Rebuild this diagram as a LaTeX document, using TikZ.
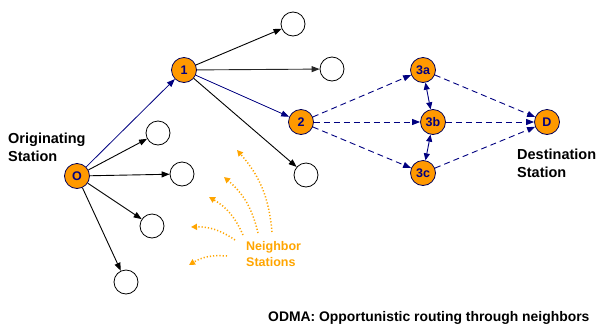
\documentclass[tikz,border=0pt]{standalone}
\usepackage{fontspec}
\setmainfont{Liberation Sans}
\usetikzlibrary{arrows.meta}
\definecolor{orng}{HTML}{FF9900}
\definecolor{nav}{HTML}{000080}
\definecolor{nbr}{HTML}{FFA500}
\begin{document}
\begin{tikzpicture}[x=1pt,y=1pt,
  onode/.style={circle,fill=orng,draw=nav!70!black,line width=0.8pt,minimum size=25pt,inner sep=0pt,font=\bfseries\fontsize{12.5}{14}\selectfont,text=nav},
  enode/.style={circle,draw=black,line width=0.8pt,minimum size=24pt,inner sep=0pt},
  blk/.style={line width=0.9pt,-{Triangle[length=8pt,width=6pt]}},
  nv/.style={nav,line width=0.8pt,-{Triangle[length=8pt,width=6pt]}},
  nvd/.style={nav,line width=0.9pt,dash pattern=on 6pt off 4pt,-{Triangle[length=8pt,width=6pt]}},
  nvb/.style={nav,line width=0.9pt,{Triangle[length=7pt,width=6pt]}-{Triangle[length=7pt,width=6pt]}},
  orarr/.style={nbr,line width=1.5pt,dash pattern=on 1.2pt off 2pt,-{Triangle[length=6pt,width=6pt]},bend right=18},
  lbl/.style={font=\bfseries\fontsize{14.5}{18}\selectfont,align=left,inner sep=0pt}
]
\useasboundingbox (0,0) rectangle (601,-335);
% orange nodes
\node[onode] (O) at (77,-176) {O};
\node[onode] (n1) at (184,-70) {1};
\node[onode] (n2) at (301,-122) {2};
\node[onode] (n3a) at (423,-70) {3a};
\node[onode] (n3b) at (433,-122) {3b};
\node[onode] (n3c) at (423,-173) {3c};
\node[onode] (D) at (547,-122) {D};
% empty nodes
\node[enode] (e1) at (293,-24) {};
\node[enode] (e2) at (332,-69) {};
\node[enode] (e3) at (306,-175) {};
\node[enode] (e4) at (158,-133) {};
\node[enode] (e5) at (182,-174) {};
\node[enode] (e6) at (152,-226) {};
\node[enode] (e7) at (126,-282) {};
% edges
\draw[nv] (O) -- (n1);
\draw[nv] (n1) -- (n2);
\draw[blk] (O) -- (e4);
\draw[blk] (O) -- (e5);
\draw[blk] (O) -- (e6);
\draw[blk] (O) -- (e7);
\draw[blk] (n1) -- (e1);
\draw[blk,black!85] (n1) -- (e2);
\draw[blk] (n1) -- (e3);
\draw[nvd] (n2) -- (n3a);
\draw[nvd] (n2) -- (n3b);
\draw[nvd] (n2) -- (n3c);
\draw[nvd] (n3a) -- (D);
\draw[nvd] (n3b) -- (D);
\draw[nvd] (n3c) -- (D);
\draw[nvb] (n3a) -- (n3b);
\draw[nvb] (n3b) -- (n3c);
% neighbor arrows
\coordinate (s1) at (272,-232); \coordinate (t1) at (237,-150);
\coordinate (s2) at (258,-233); \coordinate (t2) at (224,-177);
\coordinate (s3) at (243,-235); \coordinate (t3) at (209,-197);
\coordinate (s4) at (235,-240); \coordinate (t4) at (191,-227);
\coordinate (s5) at (227,-256); \coordinate (t5) at (189,-265);
\draw[orarr] (s1) to (t1);
\draw[orarr] (s2) to (t2);
\draw[orarr] (s3) to (t3);
\draw[orarr] (s4) to (t4);
\draw[orarr] (s5) to (t5);
% texts
\node[lbl,anchor=west] (orig) at (8,-147) {Originating\\Station};
\node[lbl,anchor=west] (dest) at (517,-163) {Destination\\Station};
\node[lbl,anchor=west,text=nbr,font=\bfseries\fontsize{12.5}{16}\selectfont] (nb) at (246,-254) {Neighbor\\Stations};
\node[lbl,anchor=west,font=\bfseries\fontsize{13.9}{16}\selectfont] (cap) at (268,-318) {ODMA: Opportunistic routing through neighbors};
\end{tikzpicture}
\end{document}
